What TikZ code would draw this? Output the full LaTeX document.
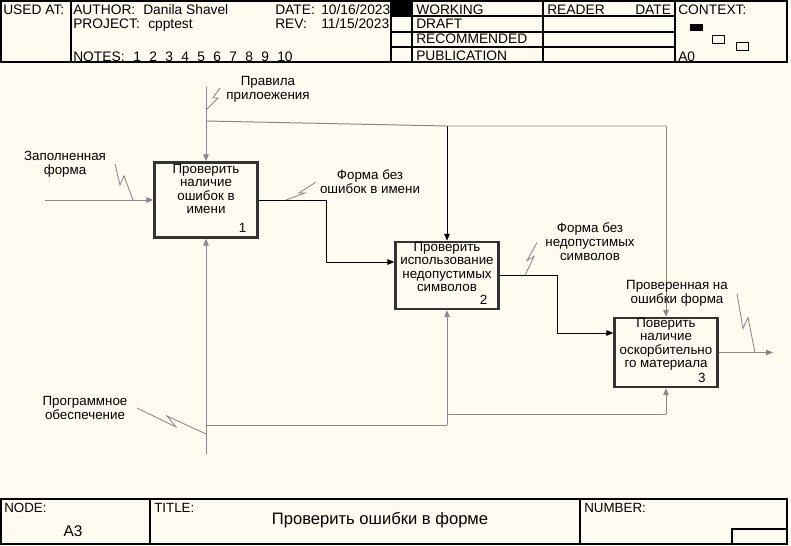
\documentclass[tikz,border=0pt]{standalone}
\usepackage{fontspec}
\setmainfont{Liberation Sans}
\usetikzlibrary{arrows.meta,positioning}
\definecolor{paper}{RGB}{255,251,240}
\definecolor{wire}{RGB}{135,135,135}

\begin{document}
\begin{tikzpicture} [
      x=0.025cm, y=-0.025cm,
      frame/.style={draw, line width=0.8pt},
      hdr/.style={anchor=base west, inner sep=0pt, font=\fontsize{9.8}{11}\selectfont},
      box/.style={draw=black!80, line width=1.7pt, rectangle, minimum width=2.575cm, fill=paper},
      boxtext/.style={align=center, inner sep=1pt, font=\fontsize{9.5}{9.4}\selectfont},
      boxnum/.style={inner sep=0pt, font=\fontsize{9.5}{11}\selectfont},
      lbl/.style={align=center, inner sep=0pt, font=\fontsize{9.5}{10}\selectfont},
      wire/.style={draw=wire, line width=0.7pt},
      arr/.style={wire, -{Triangle[length=5pt, width=4pt]}},
      darr/.style={draw=black, line width=0.7pt, -{Triangle[length=5pt, width=4pt]}},
      squig/.style={draw=wire, line width=0.6pt}
   ]
    \fill[paper] (0,0) rectangle (791,546);
    \useasboundingbox (0,0) rectangle (791,546);

    % header
    \draw[frame] (1,1) rectangle (787,62);
    \draw[frame] (71,1) -- (71,62);
    \draw[frame] (391,1) -- (391,62);
    \draw[frame] (412,1) -- (412,62);
    \draw[frame] (543,1) -- (543,62);
    \draw[frame] (675,1) -- (675,62);
    \foreach \y in {16,32,47}
      \draw[frame] (391,\y) -- (675,\y);
    \fill (391,1) rectangle (412,16);
    \node[hdr] (usedAt) at (3,15) {USED AT:};
    \node[hdr] (author) at (73,15) {AUTHOR:};
    \node[hdr] (authorName) at (143,15) {Danila Shavel};
    \node[hdr] (project) at (73,28) {PROJECT:};
    \node[hdr] (projectName) at (148,28) {cpptest};
    \node[hdr] (date) at (275,15) {DATE:};
    \node[hdr] (dateVal) at (321,15) {10/16/2023};
    \node[hdr] (rev) at (275,28) {REV:};
    \node[hdr] (revVal) at (321,28) {11/15/2023};
    \node[hdr] (notes) at (73,61) {NOTES:};
    \foreach \n in {1,...,10}
      \node[hdr] (note\n) at (117+16*\n, 61) {\n};
    \node[hdr] (working) at (416,14) {WORKING};
    \node[hdr] (draft) at (416,29) {DRAFT};
    \node[hdr] (recommended) at (416,44) {RECOMMENDED};
    \node[hdr] (publication) at (416,60) {PUBLICATION};
    \node[hdr] (reader) at (547,14) {READER};
    \node[hdr] (readerDate) at (635,14) {DATE};
    \node[hdr] (context) at (678,14) {CONTEXT:};
    \node[hdr] (ctxNode) at (678,61) {A0};
    \fill (690,24) rectangle (703,31);
    \draw[line width=0.6pt] (712,35) rectangle (724,43);
    \draw[line width=0.6pt] (736,42) rectangle (748,50);

    % activities
    \node[box, minimum height=1.875cm] (box1) at (206,200) {};
    \node[box, minimum height=1.675cm] (box2) at (447,275.5) {};
    \node[box, minimum height=1.725cm] (box3) at (666,352.5) {};
    \node[boxtext, below=1pt of box1.north] (box1Text) {Проверить\\наличие\\ошибок в\\имени};
    \node[boxtext, below=0pt of box2.north] (box2Text) {Проверить\\использование\\недопустимых\\символов};
    \node[boxtext, below=0pt of box3.north] (box3Text) {Поверить\\наличие\\оскорбительно\\го материала};
    \node[boxnum, xshift=-0.4cm, yshift=0.27cm] (box1Num) at (box1.south east) {1};
    \node[boxnum, xshift=-0.4cm, yshift=0.26cm] (box2Num) at (box2.south east) {2};
    \node[boxnum, xshift=-0.42cm, yshift=0.26cm] (box3Num) at (box3.south east) {3};

    % input
    \coordinate (inSrc) at (45,200);
    \draw[arr] (inSrc) -- (box1.west);
    \node[lbl] (inLbl) at (65,164) {Заполненная\\форма};
    \coordinate (inSq) at (133,200);
    \draw[squig] (inSq) -- ++(-9,-24) -- ++(-4,9) -- ++(-5,-21);

    % control
    \coordinate (ctlSrc) at (206,87);
    \coordinate (ctlSplit) at (206,121);
    \coordinate (ctlMid) at (447,126);
    \coordinate (ctlEnd) at (666,126);
    \draw[arr] (ctlSrc) -- (box1.north);
    \draw[wire] (ctlSplit) -- (ctlMid) -- (ctlEnd);
    \draw[darr] (ctlMid) -- (box2.north);
    \draw[arr] (ctlEnd) -- (box3.north);
    \node[lbl] (ctlLbl) at (268,89) {Правила\\прилоежения};
    \coordinate (ctlSq) at (206,110);
    \draw[squig] (ctlSq) -- ++(12,-12) -- ++(-5,0) -- ++(7,-10);

    % outputs
    \coordinate (out1a) at (326,200);
    \coordinate (out1b) at (326,262);
    \draw[darr] (box1.east) -- (out1a) -- (out1b) -- (out1b -| box2.west);
    \node[lbl] (out1Lbl) at (370,182) {Форма без\\ошибок в имени};
    \coordinate (out1Sq) at (286,200);
    \draw[squig] (out1Sq) -- ++(19,-7) -- ++(-6,0) -- ++(17,-11);

    \coordinate (out2a) at (557,275.5);
    \coordinate (out2b) at (557,333);
    \draw[darr] (box2.east) -- (out2a) -- (out2b) -- (out2b -| box3.west);
    \node[lbl] (out2Lbl) at (590,242) {Форма без\\недопустимых\\символов};
    \coordinate (out2Sq) at (525,275.5);
    \draw[squig] (out2Sq) -- ++(9,-19) -- ++(-7,4) -- ++(10,-18);

    \coordinate (out3Dst) at (773,352.5);
    \draw[arr] (box3.east) -- (out3Dst);
    \node[lbl] (out3Lbl) at (677,293) {Проверенная на\\ошибки форма};
    \coordinate (out3Sq) at (755,352.5);
    \draw[squig] (out3Sq) -- ++(-7,-35) -- ++(-5,11) -- ++(-6,-35);

    % mechanism
    \coordinate (mechSrc) at (206,454);
    \coordinate (mechSplit) at (206,425);
    \coordinate (mechMid) at (447,425);
    \coordinate (mechTurn) at (447,414);
    \coordinate (mechEnd) at (666,414);
    \draw[arr] (mechSrc) -- (box1.south);
    \draw[wire] (mechSplit) -- (mechMid);
    \draw[arr] (mechMid) -- (box2.south);
    \draw[wire] (mechTurn) -- (mechEnd);
    \draw[arr] (mechEnd) -- (box3.south);
    \node[lbl] (mechLbl) at (85,408) {Программное\\обеспечение};
    \coordinate (mechSq) at (206,434);
    \draw[squig] (mechSq) -- ++(-39,-18) -- ++(9,11) -- ++(-39,-19);

    % footer
    \draw[frame] (1,499) rectangle (787,544);
    \draw[frame] (150,499) -- (150,544);
    \draw[frame] (580,499) -- (580,544);
    \draw[frame] (732,529) rectangle (787,544);
    \node[hdr, font=\fontsize{9.5}{11}\selectfont] (nodeHdr) at (4,512) {NODE:};
    \node[hdr, font=\fontsize{9.5}{11}\selectfont] (titleHdr) at (154,512) {TITLE:};
    \node[hdr, font=\fontsize{9.5}{11}\selectfont] (numberHdr) at (584,512) {NUMBER:};
    \node[inner sep=0pt, font=\fontsize{11}{12}\selectfont] (nodeVal) at (73,531) {A3};
    \node[inner sep=0pt, font=\fontsize{11.8}{13}\selectfont] (titleVal) at (380,520) {Проверить ошибки в форме};

  \end{tikzpicture}
\end{document}
